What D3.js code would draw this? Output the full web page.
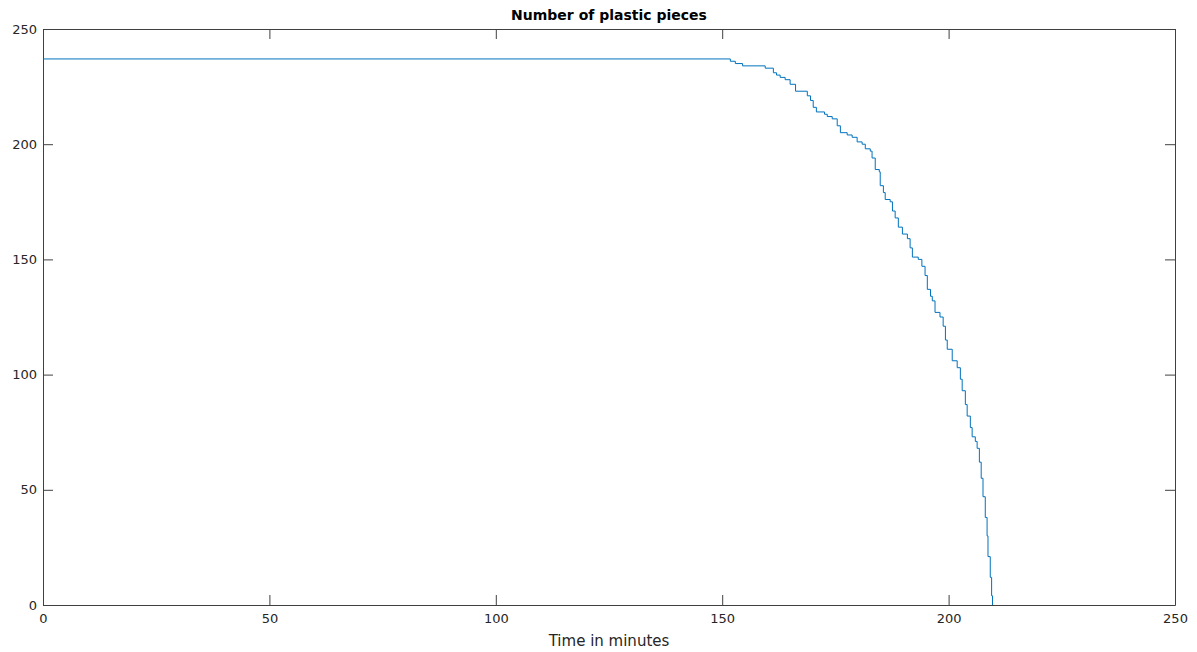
<!DOCTYPE html>
<html lang="en">
<head>
    <meta charset="UTF-8">
    <title>Number of plastic pieces</title>
    <script src="https://d3js.org/d3.v7.min.js"></script>
    <style>
        body {
            margin: 0;
            padding: 0;
            background: #fff;
            font-family: "DejaVu Sans", sans-serif;
        }
        .axis text {
            font-family: "DejaVu Sans", sans-serif;
            font-size: 13px;
            fill: #262626;
        }
        .axis path, .axis line {
            stroke: #404040;
        }
    </style>
</head>
<body>
    <svg width="1197" height="652"></svg>

    <script>
        // step points: count holds from this time onward
        const times = [0, 151.8, 152.9, 154.5, 159.5, 161.3, 162.0, 162.8, 163.9, 165.0,
            166.2, 168.8, 169.5, 170.1, 170.8, 172.6, 173.2, 174.3, 175.4, 176.1,
            177.6, 178.7, 179.8, 180.9, 181.6, 182.7, 183.1, 183.8, 184.7, 184.9,
            185.6, 186.0, 187.1, 187.6, 188.2, 188.9, 189.8, 190.9, 191.5, 192.0,
            193.3, 194.1, 194.8, 195.3, 196.0, 196.4, 197.0, 198.1, 198.8, 199.3,
            199.7, 200.8, 201.9, 202.6, 203.0, 203.7, 204.1, 204.8, 205.2, 205.9,
            206.3, 206.8, 207.2, 207.6, 208.1, 208.5, 208.7, 209.2, 209.5, 209.7];
        const counts = [237, 236, 235, 234, 233, 231, 230, 229, 228, 226,
            223, 221, 219, 216, 214, 213, 212, 211, 208, 205,
            204, 203, 201, 200, 198, 197, 194, 189, 188, 182,
            179, 176, 175, 171, 168, 164, 161, 159, 155, 151,
            150, 147, 143, 137, 134, 132, 127, 125, 121, 115,
            111, 106, 103, 98, 93, 87, 82, 77, 73, 71,
            68, 62, 55, 47, 38, 30, 21, 12, 4, 0];
        const xTicks = [0, 50, 100, 150, 200, 250];
        const yTicks = [0, 50, 100, 150, 200, 250];

        const margin = { top: 29, right: 22, bottom: 47, left: 43 };
        const width = 1197 - margin.left - margin.right;
        const height = 652 - margin.top - margin.bottom;

        const svg = d3.select("svg")
            .append("g")
            .attr("transform", `translate(${margin.left},${margin.top})`);

        const xScale = d3.scaleLinear().domain([0, 250]).range([0, width]);
        const yScale = d3.scaleLinear().domain([0, 250]).range([height, 0]);

        const data = times.map((t, i) => ({ t: t, n: counts[i] }));

        // axes, ticks pointing inward on all four sides
        svg.append("g")
            .attr("class", "axis")
            .attr("transform", `translate(0,${height})`)
            .call(d3.axisBottom(xScale).tickValues(xTicks).tickSizeInner(-10).tickSizeOuter(0).tickPadding(9));

        svg.append("g")
            .attr("class", "axis")
            .call(d3.axisLeft(yScale).tickValues(yTicks).tickSizeInner(-10).tickSizeOuter(0).tickPadding(6));

        svg.append("g")
            .attr("class", "axis")
            .call(d3.axisTop(xScale).tickValues(xTicks).tickSizeInner(-10).tickSizeOuter(0).tickFormat(""));

        svg.append("g")
            .attr("class", "axis")
            .attr("transform", `translate(${width},0)`)
            .call(d3.axisRight(yScale).tickValues(yTicks).tickSizeInner(-10).tickSizeOuter(0).tickFormat(""));

        const line = d3.line()
            .x(d => xScale(d.t))
            .y(d => yScale(d.n))
            .curve(d3.curveStepAfter);

        svg.append("path")
            .datum(data)
            .attr("fill", "none")
            .attr("stroke", "#0072BD")
            .attr("stroke-width", 1)
            .attr("d", line);

        svg.append("text")
            .attr("x", width / 2)
            .attr("y", -9)
            .attr("text-anchor", "middle")
            .style("font-size", "14px")
            .style("font-weight", "bold")
            .style("fill", "#000")
            .text("Number of plastic pieces");

        svg.append("text")
            .attr("x", width / 2)
            .attr("y", height + 41)
            .attr("text-anchor", "middle")
            .style("font-size", "15px")
            .style("fill", "#262626")
            .text("Time in minutes");
    </script>
</body>
</html>
